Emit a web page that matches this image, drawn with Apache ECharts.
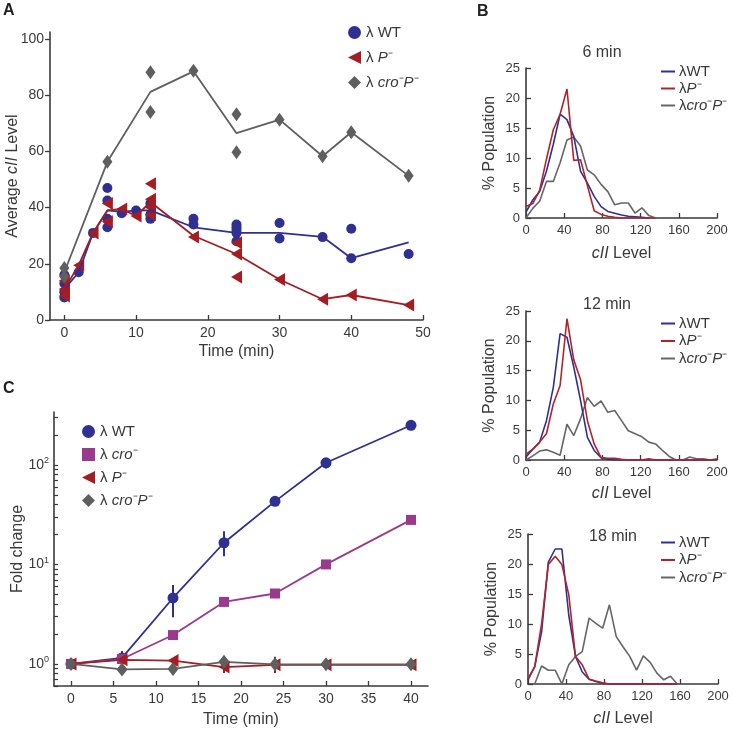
<!DOCTYPE html>
<html><head><meta charset="utf-8">
<script src="https://cdn.jsdelivr.net/npm/echarts@6/dist/echarts.min.js"></script>
<style>html,body{margin:0;padding:0;background:#fff}#c{width:733px;height:733px}</style>
</head><body><div id="c"></div>
<script>
// ---------- Panel A : average cII level ----------
const aWtT = [0,0,0,0,2,4,6,6,6,6,8,10,12,12,12,18,18,24,24,24,24,24,30,30,36,40,40,48];
const aWtV = [8,10,13,16,17,31,47,42.5,36,33,38,39,41.5,37.5,36,36,34,34,33,32,31,28,34.5,29,29.5,32.5,22,23.5];
const aPT = [0,0,0,0,2,4,6,6,8,10,12,12,12,12,18,24,24,24,30,36,40,48];
const aPV = [14,11,10,8.5,19.5,31,41.5,35,39.5,37,48.5,43,40,37.5,29.5,27.5,23.5,15.3,14.4,7.4,8.9,5.3];
const aCPT = [0,0,6,12,12,18,24,24,30,36,40,48];
const aCPV = [18.5,15.5,56.3,88.2,74,88.7,73.2,59.7,71.3,58.3,66.8,51.3];
const aLineT = [0,2,4,6,8,10,12,18,24,30,36,40,48];
const aWtMean = [11,17,31,39,38.5,39,39,33,31,31,29.6,22,27.6];
const aPMean = [11,19.5,31,39,39.5,37,42,30,23.5,14.4,7.4,8.9,5.3];
const aCPLineT = [0,6,12,18,24,30,36,40,48];
const aCPMean = [17,56.3,81.2,88.5,66.5,71.3,58.3,66.8,51.3];
const aXTicks = [0,10,20,30,40,50];
const aYTicks = [0,20,40,60,80,100];

// ---------- Panel B : distributions ----------
const bBins = [0,7.1,14.3,21.4,28.6,35.7,42.9,50,57.1,64.3,71.4,78.6,85.7,92.9,100,107.1,114.3,121.4,128.6,135.7,142.9,150,157.1,164.3,171.4,178.6,185.7,192.9,200];
const b6Wt = [1,3,4.4,7.8,12.3,17.3,16.4,13.6,7.8,5.8,3.6,1.9,1.1,0.8,0.5,0.3,0.2,0.1,0];
const b6P  = [1.9,2.4,4.6,9.8,14.7,17.3,21.5,9.6,9.7,5.4,1.2,0.6,0.3,0.1,0,0,0,0,0,0];
const b6Cp = [0,1.6,2.8,6.1,6.1,9.2,13,13.5,12,8,7.2,5.6,4.4,2.2,2.5,2.5,0.8,1.7,0.4,0];
const b12Wt = [0.5,1.8,3,6.6,12.2,21.2,20.6,15.6,10,3.8,1.6,0.4,0.1,0,0,0,0,0,0,0,0,0,0,0,0,0,0,0,0];
const b12P  = [1,1.8,3,4.4,9.4,12.5,23.7,16.8,13.5,6.6,2.7,0.4,0.3,0.3,0.1,0,0,0,0.2,0,0,0,0,0,0,0,0,0,0];
const b12Cp = [0,0.7,1.5,1.7,1.3,0.8,6,4.1,6.9,10.5,9,9.9,8,8.3,6.6,4.9,4.4,3.9,3,2.7,1.6,0.6,0,0,0.5,0.2,0.2,0,0.2];
const b18Wt = [0.7,2.9,8.7,20.3,22.5,22.5,11.5,4.6,2,0.8,0.4,0.1,0,0,0,0,0,0,0,0,0,0,0];
const b18P  = [0.9,2.9,10,19.9,21.3,19.9,14.9,4.6,3.2,0.8,0.5,0.2,0,0,0,0,0,0,0,0,0,0,0];
const b18Cp = [null,0,3,2.3,2.3,0,3.2,4.6,5.4,11,10.1,9.3,13.2,7.9,6.2,4.6,2.3,4.7,3.6,1.8,0.7,1.3,0];
const bXTicks = [0,40,80,120,160,200];
const bYTicks = [0,5,10,15,20,25];
const bTitles = ['6 min','12 min','18 min'];

// ---------- Panel C : fold change ----------
const cT = [0,6,12,18,24,30,40];
const cWt   = [1,1.15,4.6,16.5,43,105,250];
const cCro  = [1,1.12,1.95,4.2,5.1,10,28];
const cP    = [1,1.1,1.08,0.93,0.98,0.98,0.98];
const cCroP = [1,0.88,0.89,1.05,0.99,0.99,0.99];
const cWtLo = [null,1.0,2.95,12.1,null,92,null];
const cWtHi = [null,1.35,6.2,21.5,null,116,null];
const cCroLo = [null,null,null,3.8,null,null,null];
const cCroHi = [null,null,null,4.6,null,null,null];
const cPLo = [null,null,null,0.81,0.81,null,null];
const cPHi = [null,null,null,1.02,1.18,null,null];
const cXTicks = [0,5,10,15,20,25,30,35,40];
const cYLabels = [1,10,100];
const cYTicks = [0.6,0.7,0.8,0.9,1,2,3,4,5,6,7,8,9,10,20,30,40,50,60,70,80,90,100,200,300];

const F = 'Liberation Sans, Arial, Helvetica, sans-serif';
const TXT = '#3a3a3a';
const AX = '#3a3a3a';
const BLUE = '#2E3092', RED = '#A31D23', GRAY = '#5F5F5F', MAG = '#9A3A8C';
const BBLUE = '#2E3192', BRED = '#B3242A', BGRAY = '#666666';
const TRI_LEFT = 'path://M10,0 L10,10 L0,5 Z';

function rich(fs){return {n:{fontSize:fs,color:TXT,fontFamily:F},i:{fontSize:fs,fontStyle:'italic',color:TXT,fontFamily:F}};}
const legendText = {
  'A-WT':'{n|λ WT}','A-P':'{n|λ }{i|P}{n|⁻}','A-CP':'{n|λ }{i|cro}{n|⁻}{i|P}{n|⁻}',
  'WT':'{n|λWT}','P':'{n|λ}{i|P}{n|⁻}','CP':'{n|λ}{i|cro}{n|⁻}{i|P}{n|⁻}',
  'C-WT':'{n|λ WT}','C-CRO':'{n|λ }{i|cro}{n|⁻}','C-P':'{n|λ }{i|P}{n|⁻}','C-CP':'{n|λ }{i|cro}{n|⁻}{i|P}{n|⁻}'
};
function fmtLegend(name){const k=name.replace(/^B\d-/,'');return legendText[k]||legendText[name];}

function pairs(xs, ys){return ys.map((v,i)=>[xs[i],v]);}
function binPairs(vals){const out=[];vals.forEach((v,i)=>{if(v!==null)out.push([bBins[i],v]);});return out;}
function errData(lo,hi){const out=[];cT.forEach((t,i)=>{if(lo[i]!==null)out.push([t,lo[i],hi[i]]);});return out;}
function errRender(color){
  return function(params, api){
    const p1=api.coord([api.value(0),api.value(1)]), p2=api.coord([api.value(0),api.value(2)]);
    return {type:'line',shape:{x1:p1[0],y1:p1[1],x2:p2[0],y2:p2[1]},style:{stroke:color,lineWidth:2}};
  };
}

const axisLine = {onZero:false,lineStyle:{color:AX,width:1.6}};
function xAx(grid,min,max,ticks,fs,name,gap){
  return {gridIndex:grid,type:'value',min:min,max:max,
    axisLine:axisLine,splitLine:{show:false},
    axisTick:{inside:true,length:5,lineStyle:{color:AX,width:1.3},customValues:ticks},
    axisLabel:{customValues:ticks,color:TXT,fontSize:fs,fontFamily:F,margin:6},
    name:name,nameLocation:'middle',nameGap:gap,nameMoveOverlap:false,nameTextStyle:{fontSize:16,color:TXT,fontFamily:F,rich:rich(16)}};
}
function yAx(grid,min,max,ticks,fs,name,gap,inside){
  return {gridIndex:grid,type:'value',min:min,max:max,
    axisLine:axisLine,splitLine:{show:false},
    axisTick:{inside:inside,length:5,lineStyle:{color:AX,width:1.3},customValues:ticks},
    axisLabel:{customValues:ticks,color:TXT,fontSize:fs,fontFamily:F,margin:6},
    name:name,nameLocation:'middle',nameGap:gap,nameMoveOverlap:false,nameTextStyle:{fontSize:16,color:TXT,fontFamily:F,rich:rich(16)}};
}

const xAxes = [
  xAx(0,-2,50,aXTicks,14,'Time (min)',24),
  xAx(1,0,200,bXTicks,13,'{i|cII}{n| Level}',28),
  xAx(2,0,200,bXTicks,13,'{i|cII}{n| Level}',26),
  xAx(3,0,200,bXTicks,13,'{i|cII}{n| Level}',27),
  xAx(4,-2,42,cXTicks,14,'Time (min)',26)
];
const yAxes = [
  yAx(0,0,102.5,aYTicks,14,'{n|Average }{i|cII}{n| Level}',29,false),
  yAx(1,0,25,bYTicks,13,'% Population',28,true),
  yAx(2,0,25,bYTicks,13,'% Population',28,true),
  yAx(3,0,25,bYTicks,13,'% Population',28,true),
  {gridIndex:4,type:'log',min:0.6,max:340,logBase:10,
    axisLine:axisLine,splitLine:{show:false},
    axisTick:{inside:true,length:4,lineStyle:{color:AX,width:1.2},customValues:cYTicks},
    axisLabel:{customValues:cYLabels,color:TXT,fontFamily:F,margin:5,
      formatter:function(v){return '{b|10}{s|'+Math.round(Math.log10(v))+'}';},
      rich:{b:{fontSize:14,color:TXT,fontFamily:F},s:{fontSize:9,color:TXT,fontFamily:F,verticalAlign:'top',padding:[0,0,8,0]}}},
    name:'Fold change',nameLocation:'middle',nameGap:28,nameMoveOverlap:false,nameTextStyle:{fontSize:16,color:TXT,fontFamily:F}}
];

const series = [];
// Panel A
series.push({type:'line',xAxisIndex:0,yAxisIndex:0,data:pairs(aLineT,aWtMean),showSymbol:false,symbol:'none',lineStyle:{color:BLUE,width:1.8},silent:true});
series.push({type:'line',xAxisIndex:0,yAxisIndex:0,data:pairs(aLineT,aPMean),showSymbol:false,symbol:'none',lineStyle:{color:RED,width:1.8},silent:true});
series.push({type:'line',xAxisIndex:0,yAxisIndex:0,data:pairs(aCPLineT,aCPMean),showSymbol:false,symbol:'none',lineStyle:{color:GRAY,width:1.8},silent:true});
series.push({name:'A-WT',type:'scatter',xAxisIndex:0,yAxisIndex:0,data:pairs(aWtT,aWtV),symbol:'circle',symbolSize:10,itemStyle:{color:BLUE,opacity:1}});
series.push({name:'A-P',type:'scatter',xAxisIndex:0,yAxisIndex:0,data:pairs(aPT,aPV),symbol:TRI_LEFT,symbolSize:[11,13],itemStyle:{color:RED,opacity:1}});
series.push({name:'A-CP',type:'scatter',xAxisIndex:0,yAxisIndex:0,data:pairs(aCPT,aCPV),symbol:'diamond',symbolSize:[10,14],itemStyle:{color:GRAY,opacity:1}});
// Panel B
const bSets = [[b6Wt,b6P,b6Cp],[b12Wt,b12P,b12Cp],[b18Wt,b18P,b18Cp]];
bSets.forEach((set,k)=>{
  const g=k+1;
  const defs=[['CP',set[2],BGRAY],['WT',set[0],BBLUE],['P',set[1],BRED]];
  defs.forEach(d=>{
    series.push({name:'B'+g+'-'+d[0],type:'line',xAxisIndex:g,yAxisIndex:g,data:binPairs(d[1]),symbol:'none',showSymbol:false,
      lineStyle:{color:d[2],width:1.6},itemStyle:{color:d[2]}});
  });
});
// Panel C
series.push({type:'custom',xAxisIndex:4,yAxisIndex:4,data:errData(cWtLo,cWtHi),renderItem:errRender(BLUE),z:1,silent:true});
series.push({type:'custom',xAxisIndex:4,yAxisIndex:4,data:errData(cCroLo,cCroHi),renderItem:errRender(MAG),z:1,silent:true});
series.push({type:'custom',xAxisIndex:4,yAxisIndex:4,data:errData(cPLo,cPHi),renderItem:errRender(RED),z:1,silent:true});
series.push({name:'C-WT',type:'line',xAxisIndex:4,yAxisIndex:4,data:pairs(cT,cWt),symbol:'circle',symbolSize:11,lineStyle:{color:BLUE,width:1.8},itemStyle:{color:BLUE}});
series.push({name:'C-CRO',type:'line',xAxisIndex:4,yAxisIndex:4,data:pairs(cT,cCro),symbol:'rect',symbolSize:10,lineStyle:{color:MAG,width:1.8},itemStyle:{color:MAG}});
series.push({name:'C-P',type:'line',xAxisIndex:4,yAxisIndex:4,data:pairs(cT,cP),symbol:TRI_LEFT,symbolSize:[11,13],lineStyle:{color:RED,width:1.8},itemStyle:{color:RED}});
series.push({name:'C-CP',type:'line',xAxisIndex:4,yAxisIndex:4,data:pairs(cT,cCroP),symbol:'diamond',symbolSize:[11,14],lineStyle:{color:GRAY,width:1.8},itemStyle:{color:GRAY}});

function bLegend(g,top,gap){
  return {left:656,top:top,orient:'vertical',itemWidth:14,itemHeight:2,itemGap:gap,icon:'rect',
    data:['B'+g+'-WT','B'+g+'-P','B'+g+'-CP'],formatter:fmtLegend,selectedMode:false,
    textStyle:{fontSize:15,color:TXT,fontFamily:F,rich:rich(15),padding:[0,0,0,-1]}};
}
const legends = [
  {left:343,top:20,orient:'vertical',itemWidth:13,itemHeight:13,itemGap:10,selectedMode:false,
    data:[{name:'A-WT',icon:'circle'},{name:'A-P',icon:TRI_LEFT},{name:'A-CP',icon:'diamond'}],
    formatter:fmtLegend,textStyle:{fontSize:15,color:TXT,fontFamily:F,rich:rich(15)}},
  bLegend(1,59,2),bLegend(2,311,2.5),bLegend(3,530,2.5),
  {left:77,top:419,orient:'vertical',itemWidth:13,itemHeight:13,itemGap:8,selectedMode:false,
    data:[{name:'C-WT',icon:'circle'},{name:'C-CRO',icon:'rect'},{name:'C-P',icon:TRI_LEFT},{name:'C-CP',icon:'diamond'}],
    formatter:fmtLegend,textStyle:{fontSize:15,color:TXT,fontFamily:F,rich:rich(15)}}
];

const graphics = [
  {type:'text',x:3,y:3,style:{text:'A',font:'bold 16px '+F,fill:'#222'}},
  {type:'text',x:477,y:4,style:{text:'B',font:'bold 16px '+F,fill:'#222'}},
  {type:'text',x:3,y:381,style:{text:'C',font:'bold 16px '+F,fill:'#222'}},
  {type:'text',x:602,y:53,style:{text:bTitles[0],font:'16px '+F,fill:TXT,align:'center',verticalAlign:'middle'}},
  {type:'text',x:607,y:305,style:{text:bTitles[1],font:'16px '+F,fill:TXT,align:'center',verticalAlign:'middle'}},
  {type:'text',x:613,y:537,style:{text:bTitles[2],font:'16px '+F,fill:TXT,align:'center',verticalAlign:'middle'}}
];

const gridBase = {outerBoundsMode:'none',containLabel:false};
const chart = echarts.init(document.getElementById('c'),null,{renderer:'canvas'});
chart.setOption({
  animation:false,
  backgroundColor:'#fff',
  textStyle:{fontFamily:F},
  grid:[
    Object.assign({left:50,top:32,width:373,height:288},gridBase),
    Object.assign({left:526,top:68,width:191,height:150},gridBase),
    Object.assign({left:526,top:311,width:191,height:149},gridBase),
    Object.assign({left:528,top:534,width:190,height:150},gridBase),
    Object.assign({left:54,top:412,width:374,height:274},gridBase)
  ],
  xAxis:xAxes,
  yAxis:yAxes,
  legend:legends,
  graphic:graphics,
  series:series
});
</script></body></html>
